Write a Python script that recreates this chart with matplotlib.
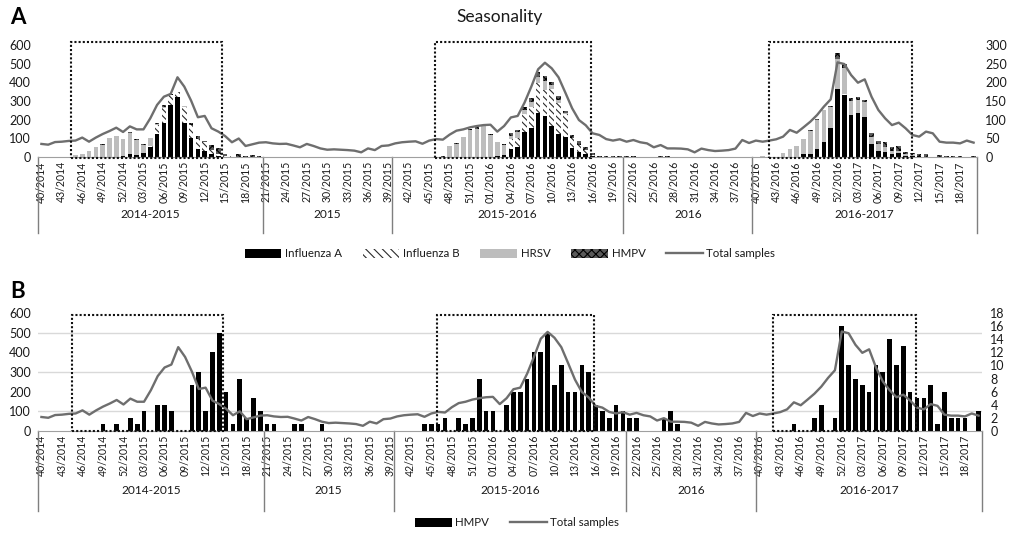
import numpy as np
import matplotlib.pyplot as plt
from matplotlib.patches import Patch, Rectangle
from matplotlib.lines import Line2D

plt.rcParams['font.family'] = ['Lato', 'DejaVu Sans']
plt.rcParams['hatch.linewidth'] = 0.8

# week categories (year, first week, last week)
year_blocks = [(2014, 40, 52), (2015, 1, 53), (2016, 1, 52), (2017, 1, 20)]
weeks = []
for yr, w0, w1 in year_blocks:
    for w in range(w0, w1 + 1):
        weeks.append('%02d/%d' % (w, yr))

season_names = ['2014-2015', '2015', '2015-2016', '2016', '2016-2017']
season_sizes = [33, 19, 34, 19, 33]

# total samples per week (left axis)
total_samples = [
    70, 66, 80, 82, 86, 88, 104, 82, 104, 123,
    139, 157, 134, 164, 148, 148, 207, 279, 323, 338,
    427, 377, 302, 213, 220, 154, 136, 112, 79, 99,
    59, 68, 77, 79, 73, 70, 71, 62, 52, 70,
    59, 46, 39, 41, 39, 37, 34, 25, 46, 37,
    59, 62, 73, 79, 82, 84, 71, 88, 96, 93,
    120, 141, 148, 159, 166, 171, 173, 136, 166, 212,
    220, 291, 377, 470, 505, 475, 427, 345, 261, 198,
    170, 127, 118, 96, 88, 95, 82, 91, 79, 73,
    52, 64, 46, 46, 45, 41, 25, 45, 37, 32,
    34, 37, 45, 91, 75, 88, 82, 88, 95, 109,
    145, 130, 159, 189, 225, 270, 309, 507, 498, 439,
    398, 416, 323, 252, 207, 171, 184, 154, 118, 109,
    136, 127, 82, 77, 77, 73, 88, 77]

# positives per week (right axis)
flu_a = ([0] * 12 + [4, 7, 5, 12, 26, 61, 92, 140, 160, 92, 50, 22, 16, 8, 4]
         + [0] * 40 + [2, 5, 22, 28, 68, 79, 117, 110, 83, 62, 54, 23, 14, 8, 2]
         + [0] * 30 + [7, 7, 21, 41, 77, 181, 166, 112, 119, 108, 35, 16, 14, 8, 10, 2, 2, 2]
         + [0] * 8)
flu_b = ([0] * 16 + [4, 25, 40, 25, 14, 42, 35, 26, 24, 12, 4, 2, 2]
         + [0] * 40 + [25, 22, 47, 55, 80, 70, 98, 82, 60, 29, 18, 11, 4, 1]
         + [0] * 34 + [2, 2] + [0] * 8 + [2] + [0] * 10)
hrsv = ([0] * 5 + [5, 8, 16, 26, 33, 50, 55, 44, 57, 41, 20, 22, 2, 3, 2, 0, 3]
        + [0] * 38 + [29, 36, 53, 73, 74, 82, 59, 39, 26, 10, 16, 12, 12, 18, 23, 12, 9, 4]
        + [0] * 28 + [2, 0, 0, 12, 21, 29, 41, 63, 78, 85, 57, 79, 71, 37, 34, 40, 18, 19,
                      13, 8, 6, 4, 5] + [0] * 9)
hmpv = [
    0, 0, 0, 0, 0, 0, 0, 0, 0, 1,
    0, 1, 0, 2, 1, 3, 0, 4, 4, 3,
    0, 0, 7, 9, 3, 12, 15, 6, 1, 8,
    2, 5, 3, 1, 1, 0, 0, 1, 1, 0,
    0, 1, 0, 0, 0, 0, 0, 0, 0, 0,
    0, 0, 0, 0, 0, 0, 1, 1, 1, 2,
    0, 2, 1, 2, 8, 3, 3, 0, 4, 6,
    6, 8, 12, 12, 15, 7, 10, 6, 6, 10,
    9, 4, 3, 2, 4, 3, 2, 2, 0, 0,
    0, 2, 3, 1, 0, 0, 0, 0, 0, 0,
    0, 0, 0, 0, 0, 0, 0, 0, 0, 0,
    1, 0, 0, 2, 4, 0, 2, 16, 10, 8,
    7, 6, 10, 9, 14, 10, 13, 6, 5, 5,
    7, 1, 6, 2, 2, 2, 0, 3]

# epidemic periods (dotted boxes), in week index units
epi_periods = [(4.4, 26.5), (57.9, 80.8), (106.9, 127.9)]

TXT = '#1a1a1a'
LINE_C = '#6e6e6e'
W, H = 1009, 535
fig = plt.figure(figsize=(W / 100, H / 100), dpi=100)
x = np.arange(len(weeks))


def panel(px_left, px_right, px_top, px_bottom, right_max, right_step, box_top):
    axb = fig.add_axes([px_left / W, 1 - px_bottom / H,
                        (px_right - px_left) / W, (px_bottom - px_top) / H])
    axl = axb.twinx()
    axb.yaxis.tick_right()
    axl.yaxis.tick_left()
    axb.set_ylim(0, right_max)
    axb.set_yticks(np.arange(0, right_max + 0.1, right_step))
    axb.set_yticks(np.linspace(0, right_max, 7), minor=True)
    axb.grid(True, which='minor', axis='y', color='#d9d9d9', lw=1)
    axb.set_axisbelow(True)
    axl.set_ylim(0, 600)
    axl.set_yticks(np.arange(0, 601, 100))
    for a in (axb, axl):
        a.set_xlim(-0.5, len(weeks) - 0.5)
        for s in a.spines.values():
            s.set_visible(False)
    axb.spines['bottom'].set_visible(True)
    axb.spines['bottom'].set_color('#a0a0a0')
    axb.tick_params(axis='y', which='both', length=0, pad=6, labelsize=9, labelcolor=TXT)
    axl.tick_params(axis='y', length=0, pad=5, labelsize=9, labelcolor=TXT)
    axb.set_xticks(x[::3])
    axb.set_xticklabels(weeks[::3], rotation=90, fontsize=7.6, color=TXT)
    axb.tick_params(axis='x', length=0, pad=3)
    axl.tick_params(axis='x', length=0, labelbottom=False)

    # multi-level category axis
    trans = axb.get_xaxis_transform()
    edges = np.concatenate([[0], np.cumsum(season_sizes)]) - 0.5
    for e in edges:
        axb.plot([e, e], [0, -0.68], transform=trans, clip_on=False,
                 color='#7f7f7f', lw=1)
    for name, a, b in zip(season_names, edges[:-1], edges[1:]):
        axb.text((a + b) / 2, -0.51, name, transform=trans, ha='center',
                 va='center', fontsize=8.6, color=TXT)

    for a, b in epi_periods:
        axl.add_patch(Rectangle((a, -4), b - a, box_top + 4, fill=False,
                                ls=(0, (1, 1)), lw=1.5, color='#111111',
                                clip_on=False, zorder=5))
    axl.plot(x, total_samples, color=LINE_C, lw=1.7, zorder=4)
    return axb, axl


# ---- panel A
axA, axA2 = panel(38, 977, 45, 157, 300, 50, 615)
bot = np.zeros(len(weeks))
bw = 0.68
axA.bar(x, flu_a, bw, bottom=bot, color='black', lw=0)
bot += flu_a
axA.bar(x, flu_b, bw, bottom=bot, color='white', edgecolor='#2a2a2a', hatch='\\\\\\\\\\', lw=0)
bot += flu_b
axA.bar(x, hrsv, bw, bottom=bot, color='#bdbdbd', lw=0)
bot += hrsv
axA.bar(x, hmpv, bw, bottom=bot, color='#5a5a5a', edgecolor='black', hatch='xxxx', lw=0)

fig.text(18 / W, 1 - 18 / H, 'A', fontsize=16, fontweight='bold', ha='center', va='center')
fig.text(500 / W, 1 - 17 / H, 'Seasonality', fontsize=12.5, ha='center', va='center', color=TXT)

hA = [Patch(facecolor='black', lw=0),
      Patch(facecolor='white', edgecolor='#2a2a2a', hatch='\\\\\\\\', lw=0),
      Patch(facecolor='#bdbdbd', lw=0),
      Patch(facecolor='#5a5a5a', edgecolor='black', hatch='xxxx', lw=0),
      Line2D([], [], color=LINE_C, lw=1.7)]
fig.legend(hA, ['Influenza A', 'Influenza B', 'HRSV', 'HMPV', 'Total samples'],
           loc='center', bbox_to_anchor=(510 / W, 1 - 254 / H), ncol=5, frameon=False,
           fontsize=8.3, handlelength=3.2, handleheight=0.8, columnspacing=1.8,
           handletextpad=0.3, labelcolor=TXT)

# ---- panel B
axB, axB2 = panel(38, 982, 313.3, 430.7, 18, 2, 590)
axB.bar(x, hmpv, bw, color='black', lw=0)

fig.text(18 / W, 1 - 292 / H, 'B', fontsize=16, fontweight='bold', ha='center', va='center')
hB = [Patch(facecolor='black', lw=0), Line2D([], [], color=LINE_C, lw=1.7)]
fig.legend(hB, ['HMPV', 'Total samples'], loc='center',
           bbox_to_anchor=(517 / W, 1 - 523 / H), ncol=2, frameon=False,
           fontsize=8.3, handlelength=3.2, handleheight=0.8, columnspacing=1.8,
           handletextpad=0.3, labelcolor=TXT)

fig.savefig('out.png', dpi=100)
